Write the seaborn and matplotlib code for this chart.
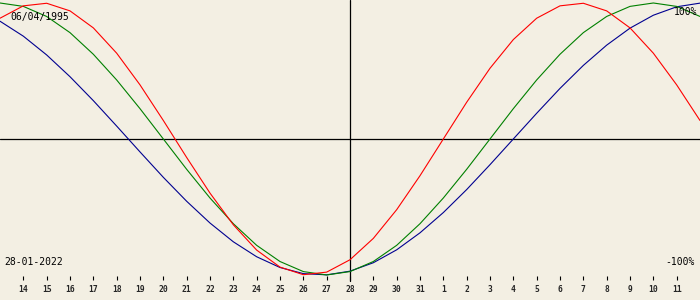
import matplotlib
matplotlib.use("Agg")
import matplotlib.pyplot as plt
import seaborn as sns
import pandas as pd

# day positions (0 = 13 Jan ... 30 = 12 Feb)
day_index = list(range(31))
tick_pos = list(range(1, 30))
tick_labels = ["14", "15", "16", "17", "18", "19", "20", "21", "22", "23", "24", "25",
               "26", "27", "28", "29", "30", "31", "1", "2", "3", "4", "5", "6", "7",
               "8", "9", "10", "11"]

physical = [88.8, 97.9, 99.8, 94.2, 81.7, 63.1, 39.8, 13.6, -13.6, -39.8, -63.1,
            -81.7, -94.2, -99.8, -97.9, -88.8, -73.1, -52.0, -27.0, 0.0, 27.0,
            52.0, 73.1, 88.8, 97.9, 99.8, 94.2, 81.7, 63.1, 39.8, 13.6]
emotional = [100.0, 97.5, 90.1, 78.2, 62.3, 43.4, 22.3, 0.0, -22.3, -43.4, -62.3,
             -78.2, -90.1, -97.5, -100.0, -97.5, -90.1, -78.2, -62.3, -43.4, -22.3,
             0.0, 22.3, 43.4, 62.3, 78.2, 90.1, 97.5, 100.0, 97.5, 90.1]
intellectual = [86.6, 75.6, 61.8, 45.8, 28.2, 9.5, -9.5, -28.2, -45.8, -61.8, -75.6,
                -86.6, -94.5, -99.0, -99.9, -97.2, -91.0, -81.5, -69.0, -54.1, -37.2,
                -18.9, 0.0, 18.9, 37.2, 54.1, 69.0, 81.5, 91.0, 97.2, 99.9]

current_day = 15
birth_label = "06/04/1995"
date_label = "28-01-2022"

bg = "#F3EFE3"
sns.set_theme(style="white")
plt.rcParams["font.family"] = ["DejaVu Sans Mono", "DejaVu Sans"]

df = pd.concat([
    pd.DataFrame({"day": day_index, "value": physical, "cycle": "physical"}),
    pd.DataFrame({"day": day_index, "value": emotional, "cycle": "emotional"}),
    pd.DataFrame({"day": day_index, "value": intellectual, "cycle": "intellectual"}),
])

fig = plt.figure(figsize=(7, 3), dpi=100, facecolor=bg)
ax = fig.add_axes([0, 0, 1, 1])
ax.set_facecolor(bg)

ax.axhline(0, color="black", lw=0.9, zorder=1)
ax.axvline(current_day, ymin=(300 - 281) / 300, ymax=1, color="black", lw=0.9, zorder=1)

sns.lineplot(data=df, x="day", y="value", hue="cycle",
             palette={"physical": "#FF0000", "emotional": "#008000", "intellectual": "#000090"},
             hue_order=["intellectual", "emotional", "physical"],
             lw=0.8, legend=False, ax=ax, zorder=3)

ax.set_xlim(0, 30)
ax.set_ylim(-118.4, 102.2)
ax.set_xlabel("")
ax.set_ylabel("")
ax.set_yticks([])
for s in ax.spines.values():
    s.set_visible(False)
ax.spines["bottom"].set_position(("axes", 24 / 300))
ax.set_xticks(tick_pos)
ax.set_xticklabels(tick_labels)
ax.tick_params(axis="x", direction="out", length=3.2, width=0.8, color="black",
               pad=3.0, labelsize=5.8, bottom=True)
for lbl in ax.get_xticklabels():
    lbl.set_fontweight("bold")

ax.text(10 / 700, 1 - 17 / 300, birth_label, transform=ax.transAxes, fontsize=7,
        va="center", ha="left", color="black")
ax.text(4 / 700, 1 - 262 / 300, date_label, transform=ax.transAxes, fontsize=7,
        va="center", ha="left", color="black")
ax.text(697 / 700, 1 - 12 / 300, "100%", transform=ax.transAxes, fontsize=7,
        va="center", ha="right", color="black")
ax.text(695 / 700, 1 - 262 / 300, "-100%", transform=ax.transAxes, fontsize=7,
        va="center", ha="right", color="black")

fig.savefig("out.png", dpi=100, facecolor=bg)
